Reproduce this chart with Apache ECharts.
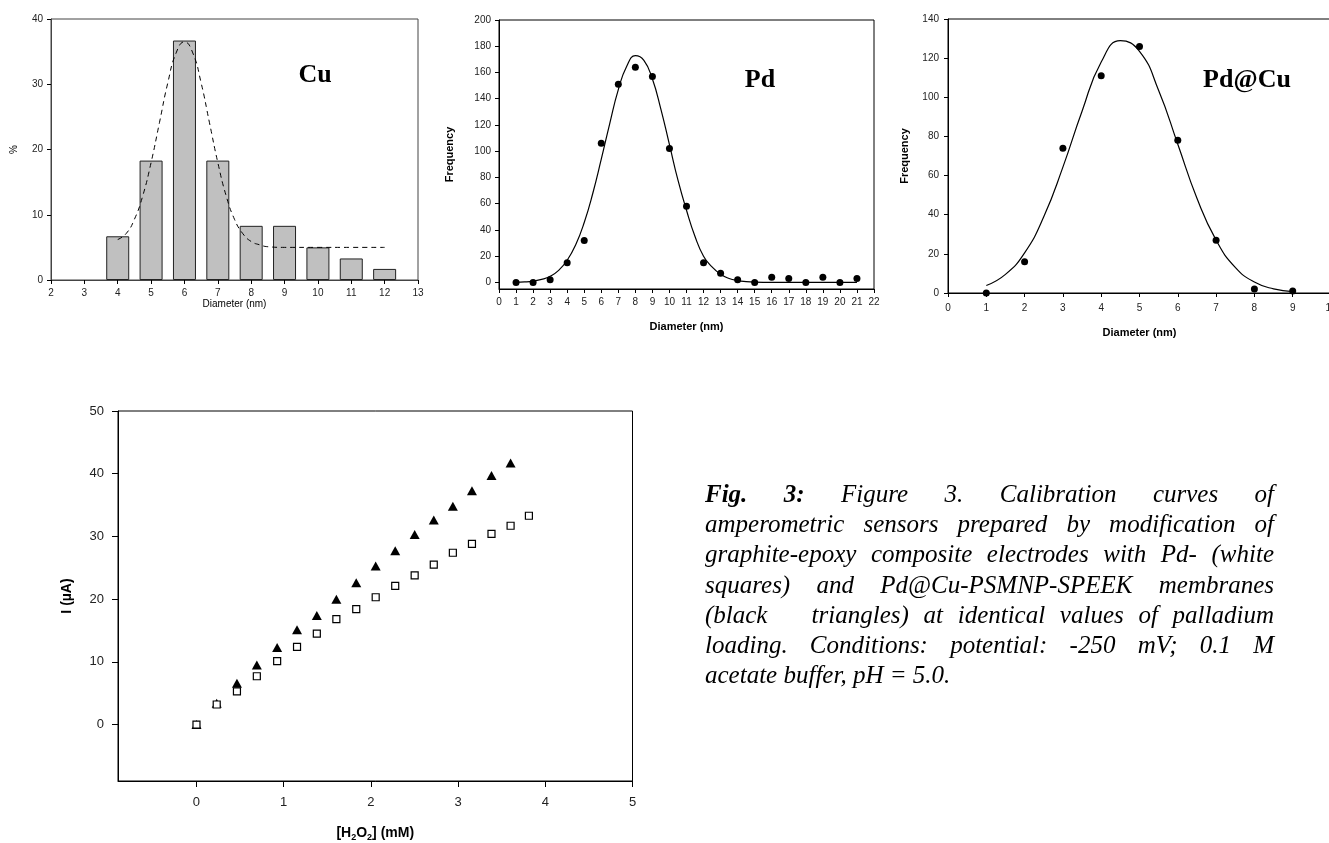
<!DOCTYPE html>
<html><head><meta charset="utf-8">
<script src="https://cdn.jsdelivr.net/npm/echarts@6/dist/echarts.min.js"></script>
<style>html,body{margin:0;padding:0;background:#fff}#c{width:1329px;height:843px}</style>
</head><body><div id="c"></div>
<script>
// ---- Cu histogram ----
const cuDiam = [4,5,6,7,8,9,10,11,12];
const cuPct = [6.7,18.3,36.7,18.3,8.3,8.3,5.0,3.3,1.7];
const cuFitX = [4,4.25,4.5,4.75,5,5.25,5.5,5.75,6,6.25,6.5,6.75,7,7.25,7.5,7.75,8,8.25,8.5,9,10,11,12];
const cuFitY = [6.2,7.1,9.3,12.9,18.0,24.1,30.2,34.8,36.5,34.8,30.2,24.1,18.0,12.9,9.3,7.1,5.9,5.4,5.1,5.0,5.0,5.0,5.0];
// ---- Pd ----
const pdDiam = [1,2,3,4,5,6,7,8,9,10,11,12,13,14,15,16,17,18,19,20,21];
const pdFreq = [0,0,2,15,32,106,151,164,157,102,58,15,7,2,0,4,3,0,4,0,3];
const pdFitX = [1,1.5,2,2.5,3,3.5,4,4.5,5,5.5,6,6.5,7,7.5,8,8.5,9,9.5,10,10.5,11,11.5,12,12.5,13,13.5,14,14.5,15,16,17,18,19,20,21];
const pdFitY = [0.2,0.4,1.0,2.3,4.7,9.2,16.9,28.7,45.7,67.8,93.9,121.3,147,165,172.8,169.2,155,131.9,105,77.9,55,35,20,11.8,6.2,3.0,1.4,0.6,0.2,0,0,0,0,0,0];
// ---- Pd@Cu ----
const pdcuDiam = [1,2,3,4,5,6,7,8,9];
const pdcuFreq = [0,16,74,111,126,78,27,2,1];
const pdcuFitX = [1,1.5,2,2.5,3,3.5,4,4.5,5,5.5,6,6.5,7,7.5,8,8.5,9];
const pdcuFitY = [3.8,9.5,20.5,38.9,64.3,92.9,118,128.9,123.5,103.5,76,48.4,27,13.1,5.6,2.1,0.7];
// ---- Calibration ----
const concTri = [0,0.232,0.464,0.692,0.925,1.153,1.38,1.604,1.832,2.055,2.279,2.502,2.721,2.94,3.159,3.383,3.602];
const currTri = [0,3.4,6.6,9.5,12.3,15.1,17.4,20.0,22.6,25.3,27.7,30.3,32.6,34.8,37.3,39.7,41.7];
const concSq = [0,0.232,0.464,0.692,0.925,1.153,1.38,1.604,1.832,2.055,2.279,2.502,2.721,2.94,3.159,3.383,3.602,3.812];
const currSq = [0,3.2,5.3,7.7,10.1,12.4,14.5,16.8,18.4,20.3,22.1,23.8,25.5,27.4,28.8,30.4,31.7,33.3];
const calibYTicks = [0,10,20,30,40,50];
const calibXTicks = [0,1,2,3,4,5];
const pdYTicks = [0,20,40,60,80,100,120,140,160,180,200];

const panelTitles = ['Cu','Pd','Pd@Cu'];
const captionLines = [
  "Fig. 3: Figure 3. Calibration curves of",
  "amperometric sensors prepared by modification of",
  "graphite-epoxy composite electrodes with Pd- (white",
  "squares) and Pd@Cu-PSMNP-SPEEK membranes",
  "(black   triangles) at identical values of palladium",
  "loading. Conditions: potential: -250 mV; 0.1 M",
  "acetate buffer, pH = 5.0."
];

const pair = (xs, ys) => xs.map((x,i)=>[x, ys[i]]);
const SANS = '"Liberation Sans", Arial, sans-serif';
const SERIF = '"Liberation Serif", "Times New Roman", serif';

function ax(grid, o){
  return Object.assign({type:'value', gridIndex:grid, splitLine:{show:false},
    axisLine:{onZero:false, lineStyle:{color:'#000'}}, axisTick:{inside:false, length:4, lineStyle:{color:'#000'}},
    axisLabel:{color:'#222', fontFamily:SANS, fontSize:10}, nameLocation:'middle',
    nameTextStyle:{color:'#000', fontFamily:SANS, fontSize:10}}, o);
}

const chart = echarts.init(document.getElementById('c'), null, {renderer:'canvas'});

// caption layout (justified)
const cv = document.createElement('canvas').getContext('2d');
const capSize = 25, capLeft = 705, capRight = 1274, capBase = 508, capPitch = 30.2;
const graphics = [];
captionLines.forEach((line, li) => {
  const words = line.split(' ');
  const fonts = words.map((w, wi) => (li===0 && wi<2) ? 'bold' : 'normal');
  const widths = words.map((w, wi) => { cv.font = 'italic ' + fonts[wi] + ' ' + capSize + 'px ' + SERIF; return cv.measureText(w).width; });
  const sum = widths.reduce((a,b)=>a+b,0);
  cv.font = 'italic normal ' + capSize + 'px ' + SERIF;
  const last = li === captionLines.length-1;
  const gap = last ? cv.measureText(' ').width : (capRight-capLeft-sum)/(words.length-1);
  let x = capLeft;
  words.forEach((w, wi) => {
    if (w) graphics.push({type:'text', x:x, y:capBase + li*capPitch, silent:true,
      style:{text:w, fontFamily:SERIF, fontSize:capSize, fontStyle:'italic', fontWeight:fonts[wi], fill:'#000', verticalAlign:'bottom', align:'left'}});
    x += widths[wi] + gap;
  });
});
const titlePos = [[315,75],[760,80],[1247,80]];
panelTitles.forEach((t,i)=>{
  graphics.push({type:'text', x:titlePos[i][0], y:titlePos[i][1], silent:true,
    style:{text:t, fontFamily:SERIF, fontSize:26, fontWeight:'bold', fill:'#000', align:'center', verticalAlign:'middle'}});
});

const G = {show:true, borderWidth:1, backgroundColor:'transparent', outerBoundsMode:'none', containLabel:false};
const option = {
  animation:false,
  backgroundColor:'#fff',
  grid:[
    Object.assign({left:51, right:1329-418, top:19, bottom:843-280, borderColor:'#444'}, G),
    Object.assign({left:499, right:1329-874, top:20, bottom:843-289, borderColor:'#000'}, G),
    Object.assign({left:948, right:-2, top:19, bottom:843-293, borderColor:'#000'}, G),
    Object.assign({left:118, right:1329-632.5, top:411, bottom:843-781, borderColor:'#000'}, G)
  ],
  xAxis:[
    ax(0,{min:2,max:13,interval:1,name:'Diameter (nm)',nameGap:16, axisLine:{onZero:false,lineStyle:{color:'#444'}}, axisLabel:{color:'#222',fontFamily:SANS,fontSize:10,margin:8}}),
    ax(1,{min:0,max:22,interval:1,name:'Diameter (nm)',nameGap:32, nameTextStyle:{color:'#000',fontFamily:SANS,fontSize:11,fontWeight:'bold'}, axisLabel:{color:'#222',fontFamily:SANS,fontSize:10,margin:8}}),
    ax(2,{min:0,max:10,interval:1,name:'Diameter (nm)',nameGap:34, nameTextStyle:{color:'#000',fontFamily:SANS,fontSize:11,fontWeight:'bold'}, axisLabel:{color:'#222',fontFamily:SANS,fontSize:10,margin:10}}),
    ax(3,{min:-0.9,max:5,name:'{b|[H}{s|2}{b|O}{s|2}{b|] (mM)}',nameGap:43,
      axisTick:{inside:false,length:6,lineStyle:{color:'#000'},customValues:calibXTicks},
      axisLabel:{color:'#222',fontFamily:SANS,fontSize:13,margin:15,customValues:calibXTicks},
      nameTextStyle:{color:'#000',fontFamily:SANS,fontSize:14,fontWeight:'bold',
        rich:{b:{fontFamily:SANS,fontSize:14,fontWeight:'bold',lineHeight:18,verticalAlign:'middle'},
              s:{fontFamily:SANS,fontSize:9,fontWeight:'bold',lineHeight:9,verticalAlign:'bottom'}}}})
  ],
  yAxis:[
    ax(0,{min:0,max:40,interval:10,name:'%',nameGap:32, axisLine:{onZero:false,lineStyle:{color:'#444'}}, axisLabel:{color:'#222',fontFamily:SANS,fontSize:10,margin:8}}),
    ax(1,{min:-5,max:200,name:'Frequency',nameGap:44,
      axisTick:{length:4,lineStyle:{color:'#000'},customValues:pdYTicks},
      axisLabel:{color:'#222',fontFamily:SANS,fontSize:10,margin:8,customValues:pdYTicks},
      nameTextStyle:{color:'#000',fontFamily:SANS,fontSize:11,fontWeight:'bold'}}),
    ax(2,{min:0,max:140,interval:20,name:'Frequency',nameGap:38, axisLabel:{color:'#222',fontFamily:SANS,fontSize:10,margin:9},
      nameTextStyle:{color:'#000',fontFamily:SANS,fontSize:11,fontWeight:'bold'}}),
    ax(3,{min:-9,max:50,name:'I (µA)',nameGap:44,
      axisTick:{length:6,lineStyle:{color:'#000'},customValues:calibYTicks},
      axisLabel:{color:'#222',fontFamily:SANS,fontSize:13,margin:14,customValues:calibYTicks},
      nameTextStyle:{color:'#000',fontFamily:SANS,fontSize:14,fontWeight:'bold'}})
  ],
  series:[
    {type:'bar', xAxisIndex:0, yAxisIndex:0, data:pair(cuDiam,cuPct), barWidth:23,
      itemStyle:{color:'#c0c0c0', borderColor:'#222', borderWidth:1}},
    {type:'line', xAxisIndex:0, yAxisIndex:0, data:pair(cuFitX,cuFitY), smooth:true, showSymbol:false,
      lineStyle:{color:'#000', width:1, type:[5,4]}},
    {type:'line', xAxisIndex:1, yAxisIndex:1, data:pair(pdFitX,pdFitY), smooth:true, showSymbol:false,
      lineStyle:{color:'#000', width:1.2}},
    {type:'scatter', xAxisIndex:1, yAxisIndex:1, data:pair(pdDiam,pdFreq), symbolSize:7, itemStyle:{color:'#000', opacity:1}},
    {type:'line', xAxisIndex:2, yAxisIndex:2, data:pair(pdcuFitX,pdcuFitY), smooth:true, showSymbol:false,
      lineStyle:{color:'#000', width:1.2}},
    {type:'scatter', xAxisIndex:2, yAxisIndex:2, data:pair(pdcuDiam,pdcuFreq), symbolSize:7, itemStyle:{color:'#000', opacity:1}},
    {type:'scatter', xAxisIndex:3, yAxisIndex:3, data:pair(concTri,currTri), symbol:'triangle', symbolSize:[10,9], itemStyle:{color:'#000', opacity:1}},
    {type:'scatter', xAxisIndex:3, yAxisIndex:3, data:pair(concSq,currSq), symbol:'rect', symbolSize:7,
      itemStyle:{color:'#fff', borderColor:'#000', borderWidth:1.2, opacity:1}}
  ],
  graphic: graphics
};
chart.setOption(option);
</script></body></html>
